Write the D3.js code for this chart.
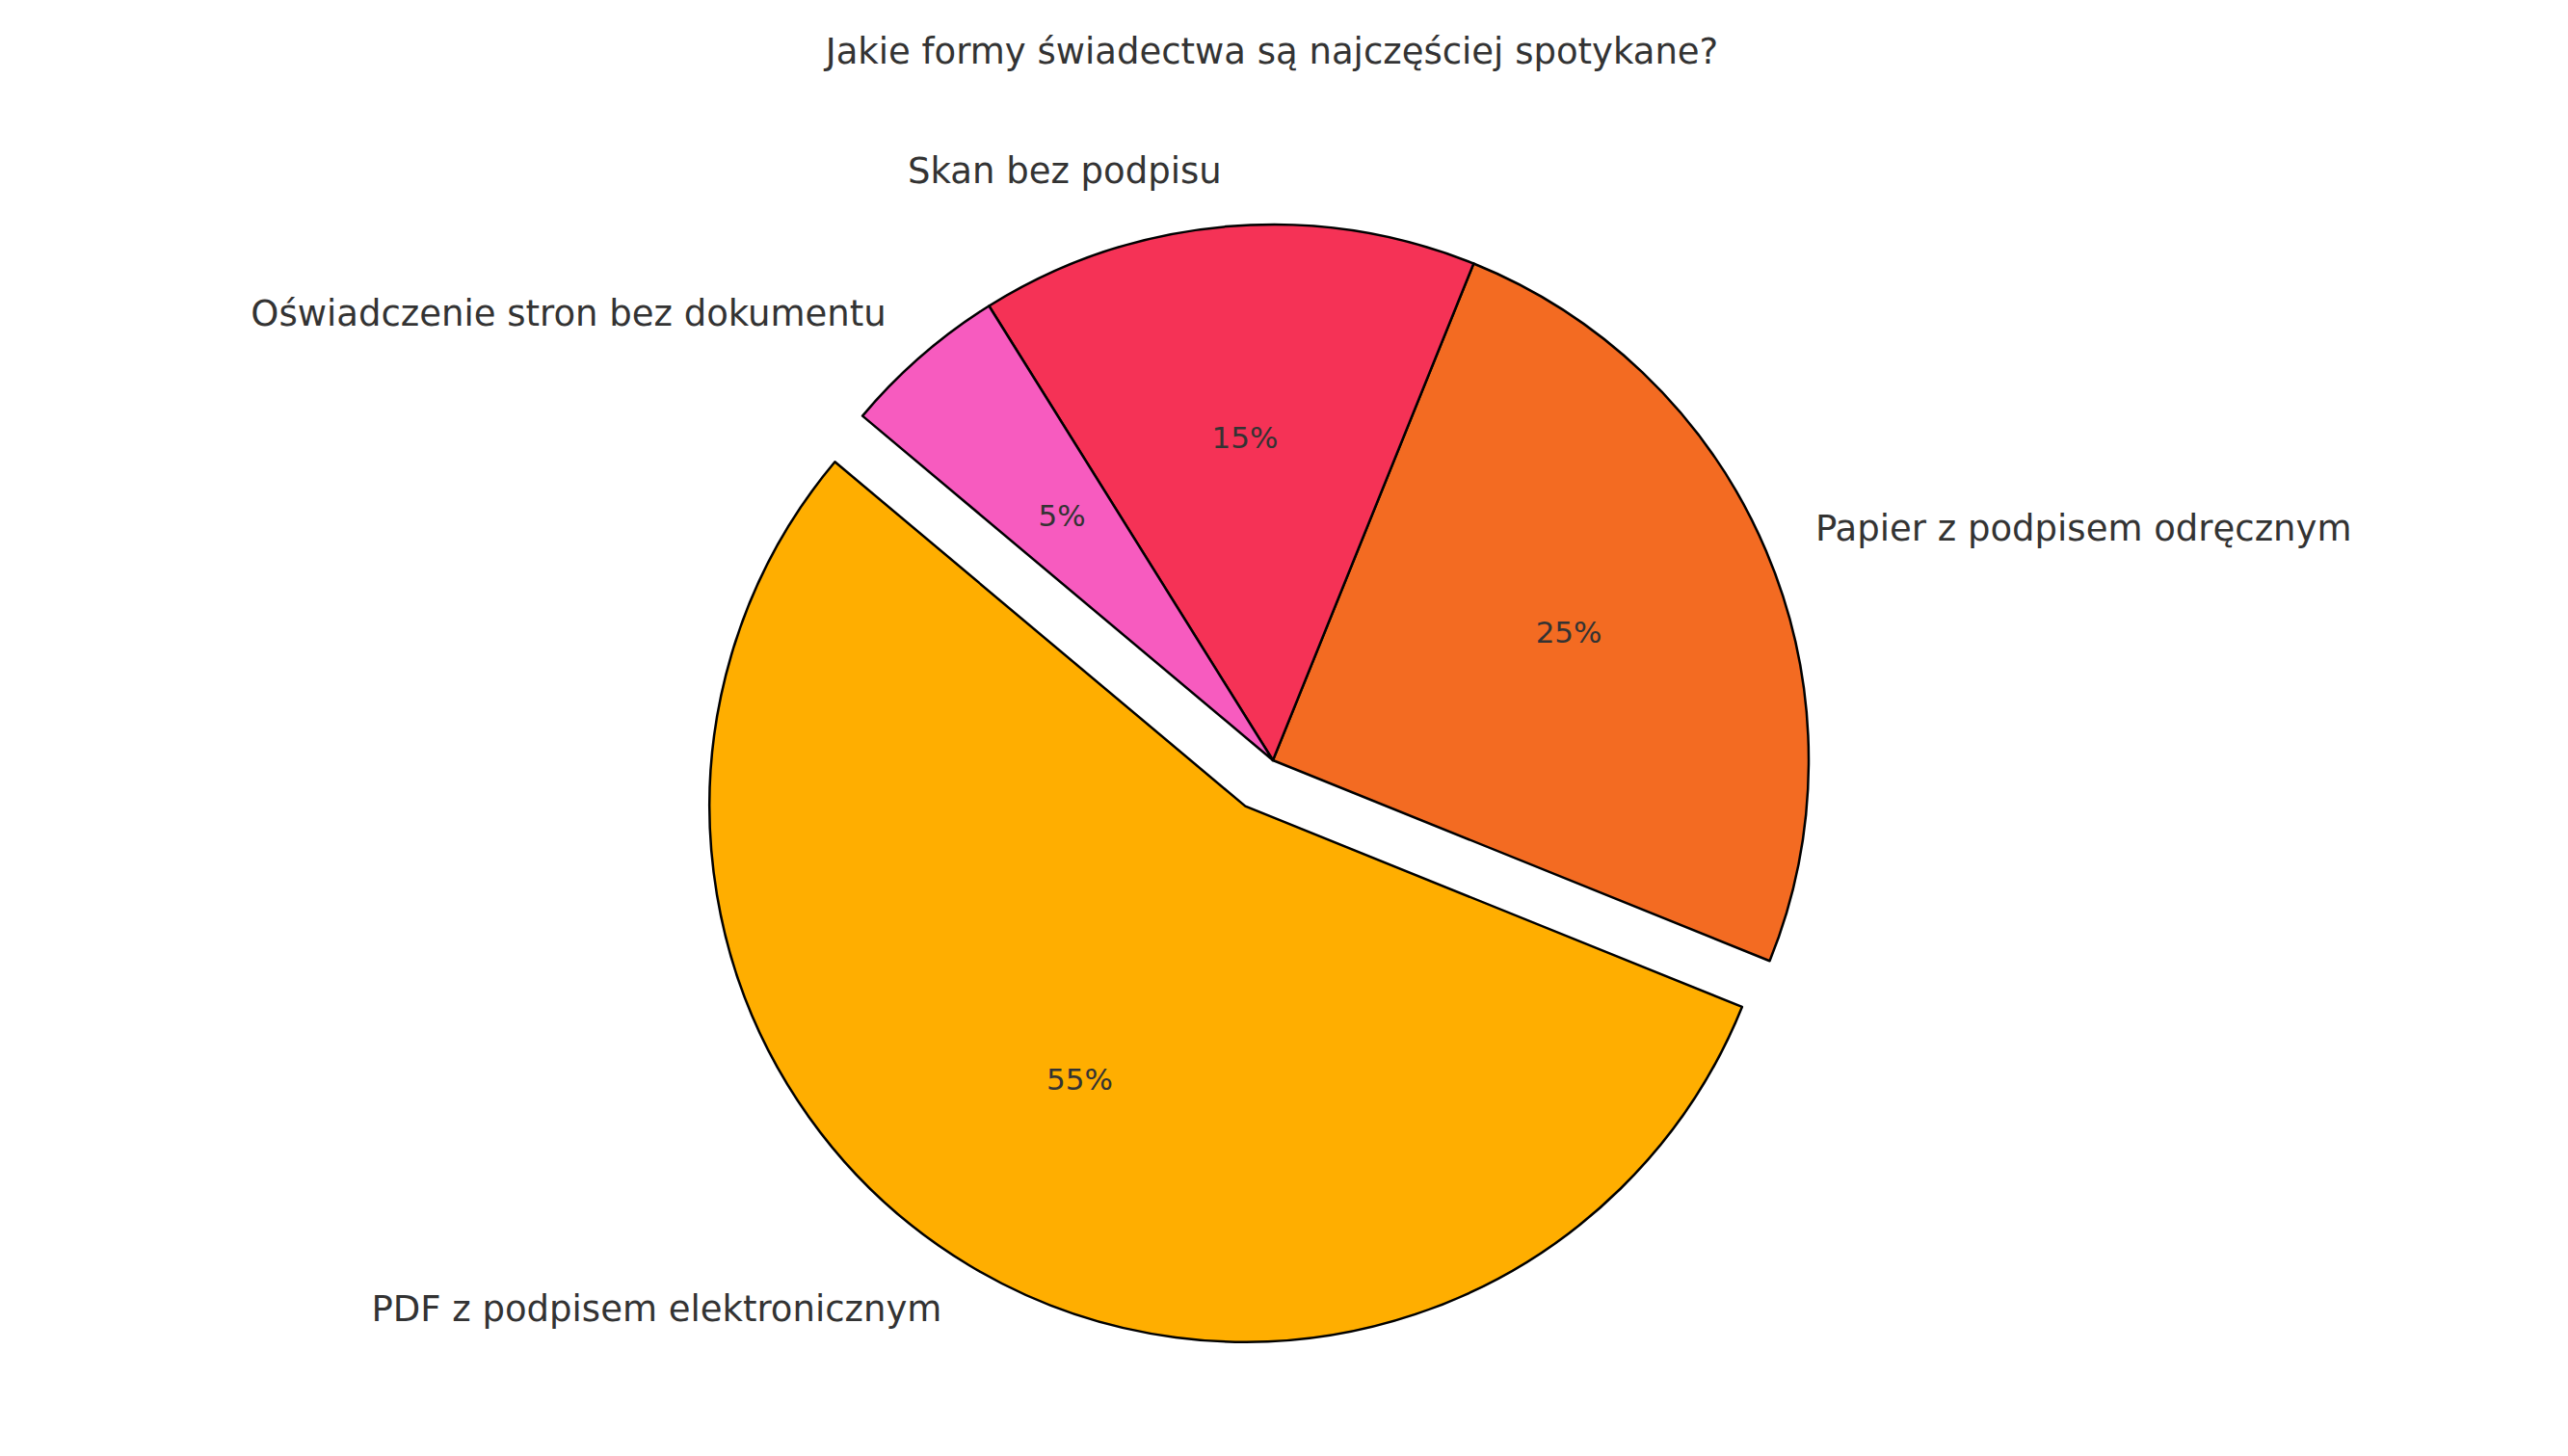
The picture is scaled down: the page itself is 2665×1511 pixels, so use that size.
<!DOCTYPE html>
<html>
<head>
<meta charset="utf-8">
<script src="https://cdn.jsdelivr.net/npm/d3@7.9.0/dist/d3.min.js"></script>
<style>
  body { margin: 0; background: #fff; }
  text { font-family: "DejaVu Sans", sans-serif; fill: #333; }
</style>
</head>
<body>
<script>
// ** Data **
const categories = ["PDF z podpisem elektronicznym", "Papier z podpisem odręcznym", "Skan bez podpisu", "Oświadczenie stron bez dokumentu"];
const values = [55, 25, 15, 5];
const colors = ["#FFAE00", "#F36B22", "#F53256", "#F75BBF"];
const explode = [0.1, 0, 0, 0];
const title = "Jakie formy świadectwa są najczęściej spotykane?";

const width = 2665, height = 1511;
const cx = 1321, cy = 789, r = 556;
const startAngle = 140; // degrees, counterclockwise from 3 o'clock

const svg = d3.select("body").append("svg")
    .attr("width", width)
    .attr("height", height);

svg.append("text")
    .attr("x", 1320).attr("y", 55)
    .attr("text-anchor", "middle")
    .attr("dominant-baseline", "middle")
    .style("font-size", "37px")
    .text(title);

const total = d3.sum(values);
const toRad = Math.PI / 180;
const arc = d3.arc().innerRadius(0).outerRadius(r);

// ** Build slices (counterclockwise like matplotlib) **
let a = startAngle;
const slices = values.map((v, i) => {
    const a0 = a, a1 = a + v / total * 360;
    a = a1;
    const mid = (a0 + a1) / 2 * toRad;
    const ox = cx + Math.cos(mid) * explode[i] * r;
    const oy = cy - Math.sin(mid) * explode[i] * r;
    return { i, v, a0, a1, mid, ox, oy };
});

const g = svg.selectAll("g.slice").data(slices).enter()
    .append("g").attr("class", "slice")
    .attr("transform", d => `translate(${d.ox},${d.oy})`);

g.append("path")
    .attr("d", d => arc({ startAngle: (90 - d.a1) * toRad, endAngle: (90 - d.a0) * toRad }))
    .attr("fill", d => colors[d.i])
    .attr("stroke", "#000")
    .attr("stroke-width", 2.5)
    .attr("stroke-linejoin", "round");

// ** Percent labels **
g.append("text")
    .attr("x", d => Math.cos(d.mid) * r * 0.6)
    .attr("y", d => -Math.sin(d.mid) * r * 0.6)
    .attr("text-anchor", "middle")
    .attr("dominant-baseline", "middle")
    .style("font-size", "31px")
    .text(d => Math.round(d.v / total * 100) + "%");

// ** Category labels **
g.append("text")
    .attr("x", d => Math.cos(d.mid) * r * 1.1)
    .attr("y", d => -Math.sin(d.mid) * r * 1.1)
    .attr("text-anchor", d => Math.cos(d.mid) < 0 ? "end" : "start")
    .attr("dominant-baseline", "middle")
    .style("font-size", "37px")
    .text(d => categories[d.i]);
</script>
</body>
</html>
